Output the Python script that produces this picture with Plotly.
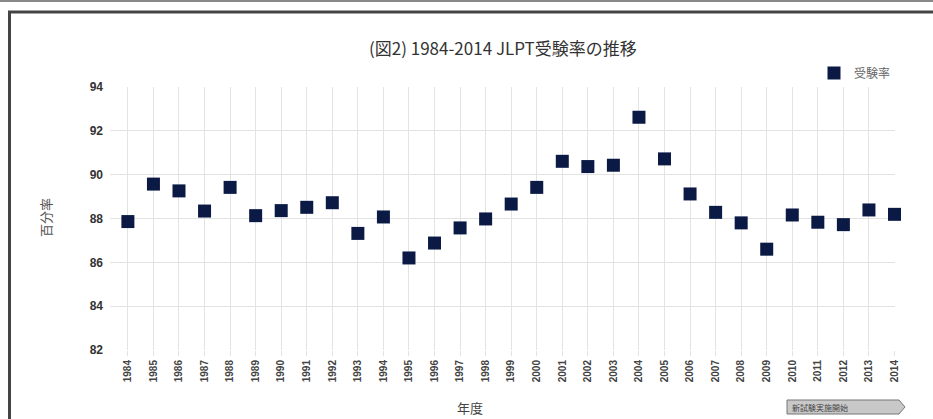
import plotly.graph_objects as go

years = list(range(1984, 2015))
rates = [87.86, 89.57, 89.26, 88.34, 89.42, 88.13, 88.36, 88.51, 88.72, 87.32,
         88.07, 86.20, 86.88, 87.57, 87.98, 88.66, 89.42, 90.61, 90.37, 90.43,
         92.62, 90.72, 89.12, 88.28, 87.80, 86.60, 88.16, 87.83, 87.72, 88.39, 88.19]
y_ticks = [82, 84, 86, 88, 90, 92, 94]

W, H = 933, 419
L, R, T, B = 110, 38, 87, 69
PW, PH = W - L - R, H - T - B

def px(x):
    return (x - L) / PW

def py(y):
    return (H - B - y) / PH

fig = go.Figure()
fig.add_trace(go.Scatter(
    x=years, y=rates, mode="markers", name="受験率",
    marker=dict(symbol="square", size=13, color="#0b1a45",
                line=dict(width=0)),
    cliponaxis=False,
))

cjk = "Noto Sans CJK JP"
shapes = [
    dict(type="line", xref="paper", yref="paper", x0=px(0), x1=px(W), y0=py(1), y1=py(1),
         line=dict(color="#888888", width=2)),
    dict(type="line", xref="paper", yref="paper", x0=px(8), x1=px(W), y0=py(12), y1=py(12),
         line=dict(color="#444444", width=3)),
    dict(type="line", xref="paper", yref="paper", x0=px(9.5), x1=px(9.5), y0=py(11), y1=py(H),
         line=dict(color="#444444", width=3)),
    # "new exam" arrow button
    dict(type="path", xref="paper", yref="paper",
         path=(f"M {px(787)} {py(400)} L {px(899)} {py(400)} L {px(905)} {py(407)} "
               f"L {px(899)} {py(414)} L {px(787)} {py(414)} Z"),
         fillcolor="#c8c8c8", line=dict(color="#777777", width=1)),
]

annotations = [
    dict(text="(図2) 1984-2014 JLPT受験率の推移", xref="paper", yref="paper",
         x=px(503), y=py(47), showarrow=False, xanchor="center", yanchor="middle",
         font=dict(family=cjk, size=17, color="#333333")),
    dict(text="年度", xref="paper", yref="paper", x=px(470), y=py(408), showarrow=False,
         xanchor="center", yanchor="middle",
         font=dict(family=cjk, size=13, color="#444444")),
    dict(text="百分率", xref="paper", yref="paper", x=px(45), y=py(218), showarrow=False,
         textangle=-90, xanchor="center", yanchor="middle",
         font=dict(family=cjk, size=13, color="#555555")),
    dict(text="新試験実施開始", xref="paper", yref="paper", x=px(790), y=py(407), showarrow=False,
         xanchor="left", yanchor="middle",
         font=dict(family=cjk, size=8, color="#444444")),
]

fig.update_layout(
    width=W, height=H,
    margin=dict(l=L, r=R, t=T, b=B),
    paper_bgcolor="white", plot_bgcolor="white",
    showlegend=True,
    legend=dict(x=px(814), y=py(73), xanchor="left", yanchor="middle",
                font=dict(family=cjk, size=12, color="#666666"),
                bgcolor="rgba(0,0,0,0)"),
    shapes=shapes, annotations=annotations,
    xaxis=dict(range=[1983.3, 2014.02], tickmode="array", tickvals=years,
               ticktext=[str(y) for y in years], tickangle=-90,
               showgrid=True, gridcolor="#e3e3e3", gridwidth=1,
               ticks="outside", ticklen=5, tickcolor="#e3e3e3",
               zeroline=False, showline=False,
               tickfont=dict(family="Liberation Sans", size=10, color="#444444", weight="bold")),
    yaxis=dict(range=[82, 94], tickmode="array", tickvals=y_ticks,
               showgrid=True, gridcolor="#e3e3e3", gridwidth=1,
               zeroline=False, showline=False, ticks="", ticklabelstandoff=6,
               tickfont=dict(family="Liberation Sans", size=12, color="#333333", weight="bold")),
)

fig.write_html("out.html", config={"displayModeBar": False},
               post_script="document.body.style.margin='0';document.body.style.overflow='hidden';")
